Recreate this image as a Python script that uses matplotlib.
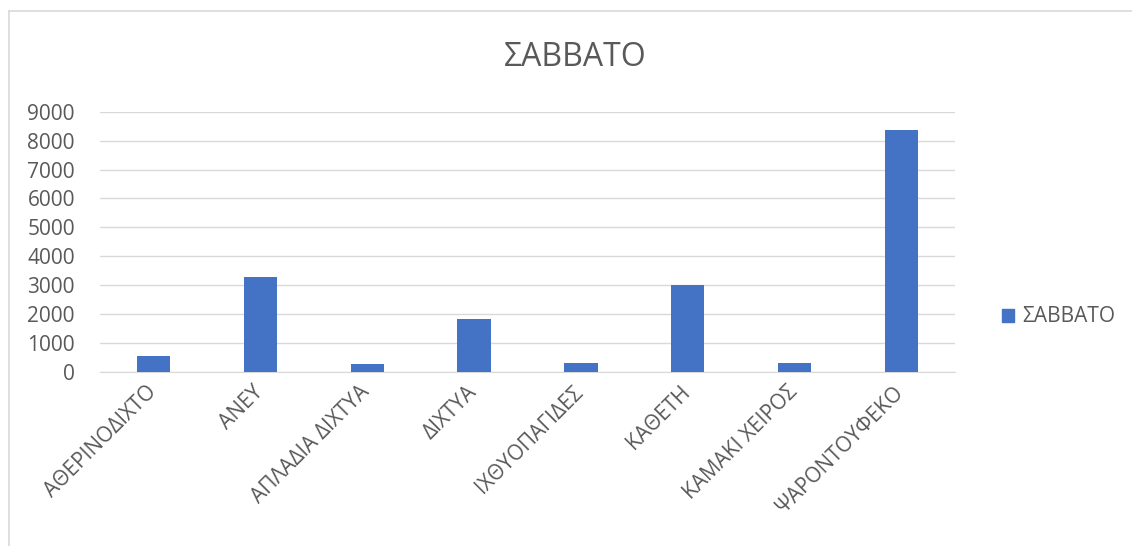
import matplotlib
matplotlib.use("Agg")
import matplotlib.pyplot as plt
import matplotlib.transforms as mtransforms
from matplotlib.lines import Line2D
from matplotlib.patches import Patch

categories = ["ΑΘΕΡΙΝΟΔΙΧΤΟ", "ΑΝΕΥ", "ΑΠΛΑΔΙΑ ΔΙΧΤΥΑ", "ΔΙΧΤΥΑ",
              "ΙΧΘΥΟΠΑΓΙΔΕΣ", "ΚΑΘΕΤΗ", "ΚΑΜΑΚΙ ΧΕΙΡΟΣ", "ΨΑΡΟΝΤΟΥΦΕΚΟ"]
values = [570, 3280, 290, 1830, 300, 3010, 300, 8380]
yticks = [0, 1000, 2000, 3000, 4000, 5000, 6000, 7000, 8000, 9000]
series_name = "ΣΑΒΒΑΤΟ"
title = "ΣΑΒΒΑΤΟ"

plt.rcParams['font.family'] = ['Open Sans', 'DejaVu Sans']
W, H = 1132, 546
fig = plt.figure(figsize=(W / 100, H / 100), dpi=100)

left, right = 100 / W, 955 / W
bottom, top = 1 - 372 / H, 1 - 111.7 / H
ax = fig.add_axes([left, bottom, right - left, top - bottom])

bar_color = "#4472C4"
text_color = "#595959"
x = list(range(len(categories)))
ax.bar(x, values, width=0.31, color=bar_color, zorder=3)
ax.set_xlim(-0.5, len(categories) - 0.5)
ax.set_ylim(0, 9000)
ax.set_yticks(yticks)
ax.set_yticklabels([str(t) for t in yticks])
ax.yaxis.grid(True, color="#D9D9D9", linewidth=1.0, zorder=0)
ax.set_axisbelow(True)
for s in ["top", "right", "left"]:
    ax.spines[s].set_visible(False)
ax.spines["bottom"].set_color("#D9D9D9")
ax.tick_params(axis="both", length=0, colors=text_color, labelsize=15)
ax.tick_params(axis="y", pad=18)
ax.set_xticks(x)
ax.set_xticklabels(categories, rotation=45, ha="right", rotation_mode="anchor")
ax.tick_params(axis="x", pad=7)
offset = mtransforms.ScaledTranslation(-8 / 100, 0, fig.dpi_scale_trans)
for lbl in ax.get_xticklabels():
    lbl.set_transform(lbl.get_transform() + offset)

fig.text(575 / W, 1 - 57 / H, title, ha="center", va="center",
         fontsize=23, color=text_color)

handle = Patch(facecolor=bar_color, edgecolor=bar_color)
leg = fig.legend([handle], [series_name], loc="center left",
                 bbox_to_anchor=(983 / W, 1 - 317 / H), frameon=False,
                 fontsize=15, handlelength=0.6, handleheight=0.6,
                 handletextpad=0.4)
for t in leg.get_texts():
    t.set_color(text_color)

# outer chart border (light gray)
fig.add_artist(Line2D([9 / W, 1], [1 - 11 / H, 1 - 11 / H], transform=fig.transFigure,
                      color="#D9D9D9", linewidth=1.2))
fig.add_artist(Line2D([9 / W, 9 / W], [0, 1 - 11 / H], transform=fig.transFigure,
                      color="#D9D9D9", linewidth=1.2))

fig.savefig("out.png", dpi=100, facecolor="white")
